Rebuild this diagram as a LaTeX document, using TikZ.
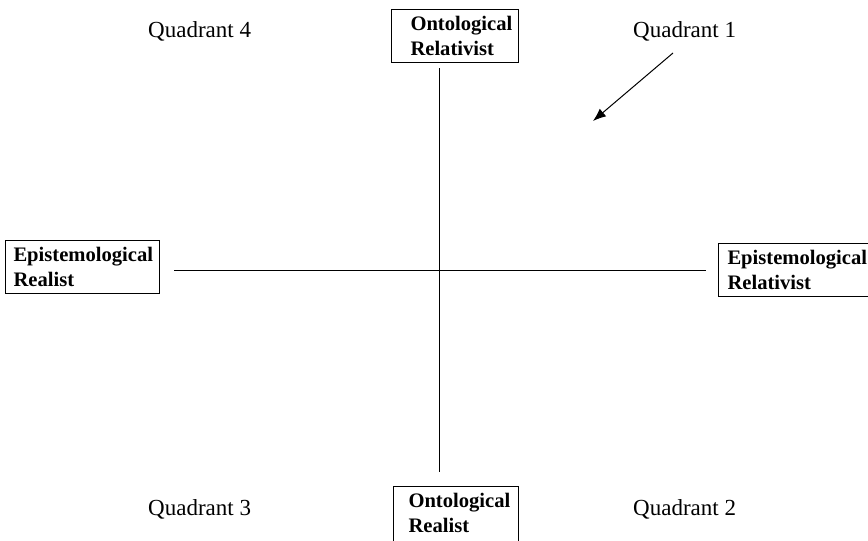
\documentclass[tikz,border=0pt]{standalone}
\usepackage{fontspec}
\usetikzlibrary{arrows.meta}
\setmainfont{Liberation Serif}
\begin{document}
\begin{tikzpicture}[x=1pt,y=-1pt,
  lbl/.style={draw,line width=1pt,align=left,font=\fontsize{20.6}{24.5}\selectfont\bfseries,inner xsep=0pt,inner ysep=7pt,anchor=north west},
  quad/.style={font=\fontsize{23}{27}\selectfont,anchor=base west,inner sep=0pt},
  axis/.style={line width=0.9pt}]
\useasboundingbox (0,0) rectangle (868,541);
\node[lbl] (top) at (391,9) {\hspace*{19pt}Ontological\hspace*{6pt}\\\hspace*{19pt}Relativist};
\node[lbl] (bot) at (393,486) {\hspace*{15pt}Ontological\hspace*{8pt}\\\hspace*{15pt}Realist\rule[-8pt]{0pt}{8pt}};
\node[lbl] (left) at (5,240) {\hspace*{8pt}Epistemological\hspace*{6pt}\\\hspace*{8pt}Realist};
\node[lbl] (right) at (718,243) {\hspace*{9pt}Epistemological\hspace*{9pt}\\\hspace*{9pt}Relativist};
\coordinate (vt) at (439,68);
\coordinate (vb) at (439,472);
\coordinate (hl) at (174,270);
\coordinate (hr) at (706,270);
\draw[axis] (vt) -- (vb);
\draw[axis] (hl) -- (hr);
\node[quad] (q4) at (148,37) {Quadrant 4};
\node[quad] (q1) at (633,37) {Quadrant 1};
\node[quad] (q3) at (148,515) {Quadrant 3};
\node[quad] (q2) at (633,515) {Quadrant 2};
\coordinate (as) at (673,53);
\coordinate (ae) at (593,121);
\draw[line width=1pt,-{Latex[length=13pt,width=10pt]}] (as) -- (ae);
\end{tikzpicture}
\end{document}
